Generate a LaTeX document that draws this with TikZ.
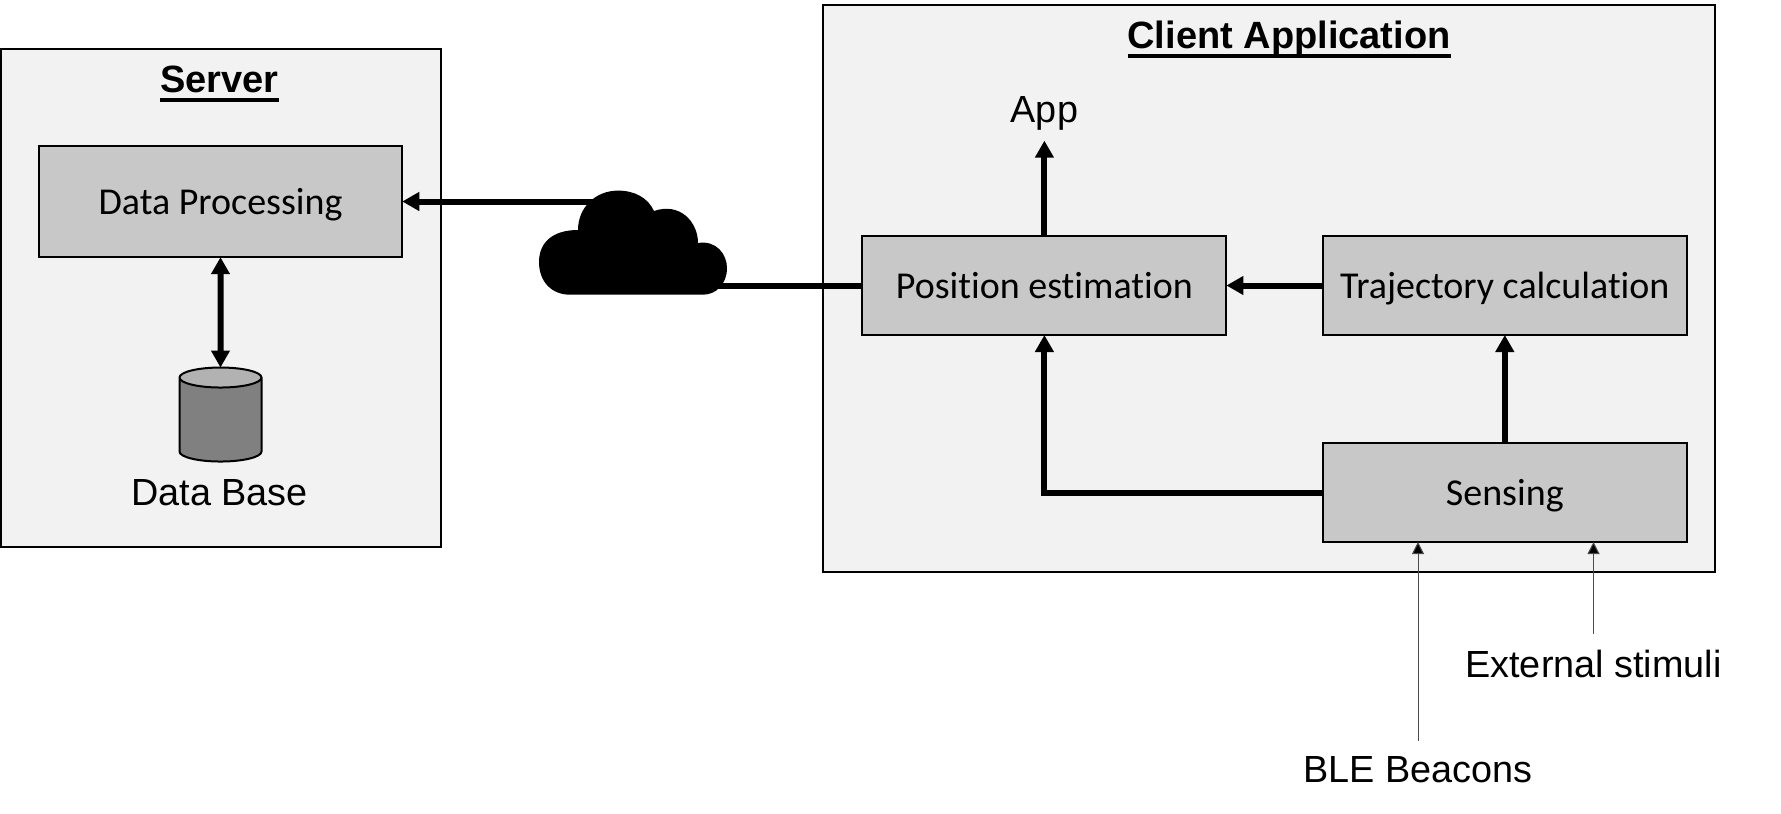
\documentclass[tikz,border=0pt]{standalone}
\usepackage{fontspec}
\usepackage{tikz}
\usetikzlibrary{arrows.meta}
\usetikzlibrary{positioning}
\usetikzlibrary{shapes.geometric}
\setmainfont{Liberation Sans}
\newfontfamily\boxfont[Ligatures=NoCommon]{Carlito}
\definecolor{panelgrey}{HTML}{F2F2F2}
\definecolor{blockgrey}{HTML}{C8C8C8}
\definecolor{bodygrey}{HTML}{808080}
\definecolor{lidgrey}{HTML}{B2B2B2}
\newcommand{\ruledtitle}[1]{\setbox0=\hbox{#1}\rlap{\rule[-9pt]{\wd0}{3.5pt}}\box0}

\begin{document}
\begin{tikzpicture}[x=1pt, y=-1pt,
	panel/.style={draw, fill=panelgrey, line width=2pt, rectangle, inner sep=0pt},
	block/.style={draw, fill=blockgrey, line width=2pt, rectangle, inner sep=0pt, outer sep=0pt, minimum width=364pt, minimum height=99pt, text height=26pt, text depth=0pt, font=\boxfont\fontsize{38}{40}\selectfont},
	heading/.style={inner sep=0pt, font=\bfseries\fontsize{38}{42}\selectfont},
	caption/.style={inner sep=0pt, font=\fontsize{37.8}{40}\selectfont},
	wide/.style={line width=6pt, -{Triangle[length=17pt, width=18pt]}},
	narrow/.style={line width=1pt, draw=black!70, -{Triangle[length=12pt, width=12pt, fill=black]}}]
	\useasboundingbox (0, 0) rectangle (1781, 814);
	
	\node[panel, minimum width=440pt, minimum height=498.4pt](server) at (221, 298) {};
	\node[panel, minimum width=892.5pt, minimum height=566.8pt](client) at (1269, 288.6) {};
	\node[heading](servertitle) at (219.5, 84) {\ruledtitle{Server}};
	\node[heading](clienttitle) at (1289, 39.5) {\ruledtitle{Client Application}};
	
	\node[block, minimum width=363.5pt, minimum height=111.4pt](processing) at (220.5, 201.5) {Data Processing};
	\node[block](position) at (1044.4, 285.5) {Position estimation};
	\node[block](trajectory) at (1504.8, 285.5) {Trajectory calculation};
	\node[block](sensing) at (1504.8, 492.5) {Sensing};
	
	\node[draw, cylinder, shape border rotate=90, shape aspect=3, line width=2pt, outer sep=0pt, minimum width=82pt, minimum height=94pt, cylinder uses custom fill, cylinder body fill=bodygrey, cylinder end fill=lidgrey](base) at (220.5, 422) {};
	
	\node[caption](basename) at (219.5, 493) {Data Base};
	\node[caption](app) at (1044.4, 113.5) {App};
	\node[caption](stimuli) at (1593.5, 664) {External stimuli};
	\node[caption](beacons) at (1418, 770) {BLE Beacons};
	
	\fill (570, 294.7) .. controls (552, 294.7) and (539, 282) .. (539, 262)
		.. controls (539, 243) and (552, 230) .. (578, 230)
		.. controls (578, 207) and (596, 190.6) .. (618, 190.6)
		.. controls (635, 190.6) and (648, 198) .. (654, 211)
		.. controls (680, 202) and (698, 222) .. (698, 243)
		.. controls (716, 240) and (727, 254) .. (727, 268)
		.. controls (727, 284) and (716, 294.7) .. (703, 294.7) -- cycle;
	\coordinate (cloudout) at (715, 285.5);
	\coordinate (cloudin) at (600, 201.5);
	
	\draw[wide] (cloudin) -- (processing);
	\draw[wide, -] (cloudout) -- (position);
	\draw[wide, {Triangle[length=17pt, width=18pt]}-{Triangle[length=17pt, width=18pt]}] (processing) -- (base);
	\draw[wide, shorten >=10pt] (position) -- (app);
	\draw[wide] (trajectory) -- (position);
	\draw[wide] (sensing) -- (trajectory);
	\draw[wide] (sensing.west) -| (position.south);
	\draw[narrow, shorten <=16pt] (beacons.north) -- (beacons.north |- sensing.south);
	\draw[narrow, shorten <=16pt] (stimuli.north) -- (stimuli.north |- sensing.south);
\end{tikzpicture}
\end{document}
